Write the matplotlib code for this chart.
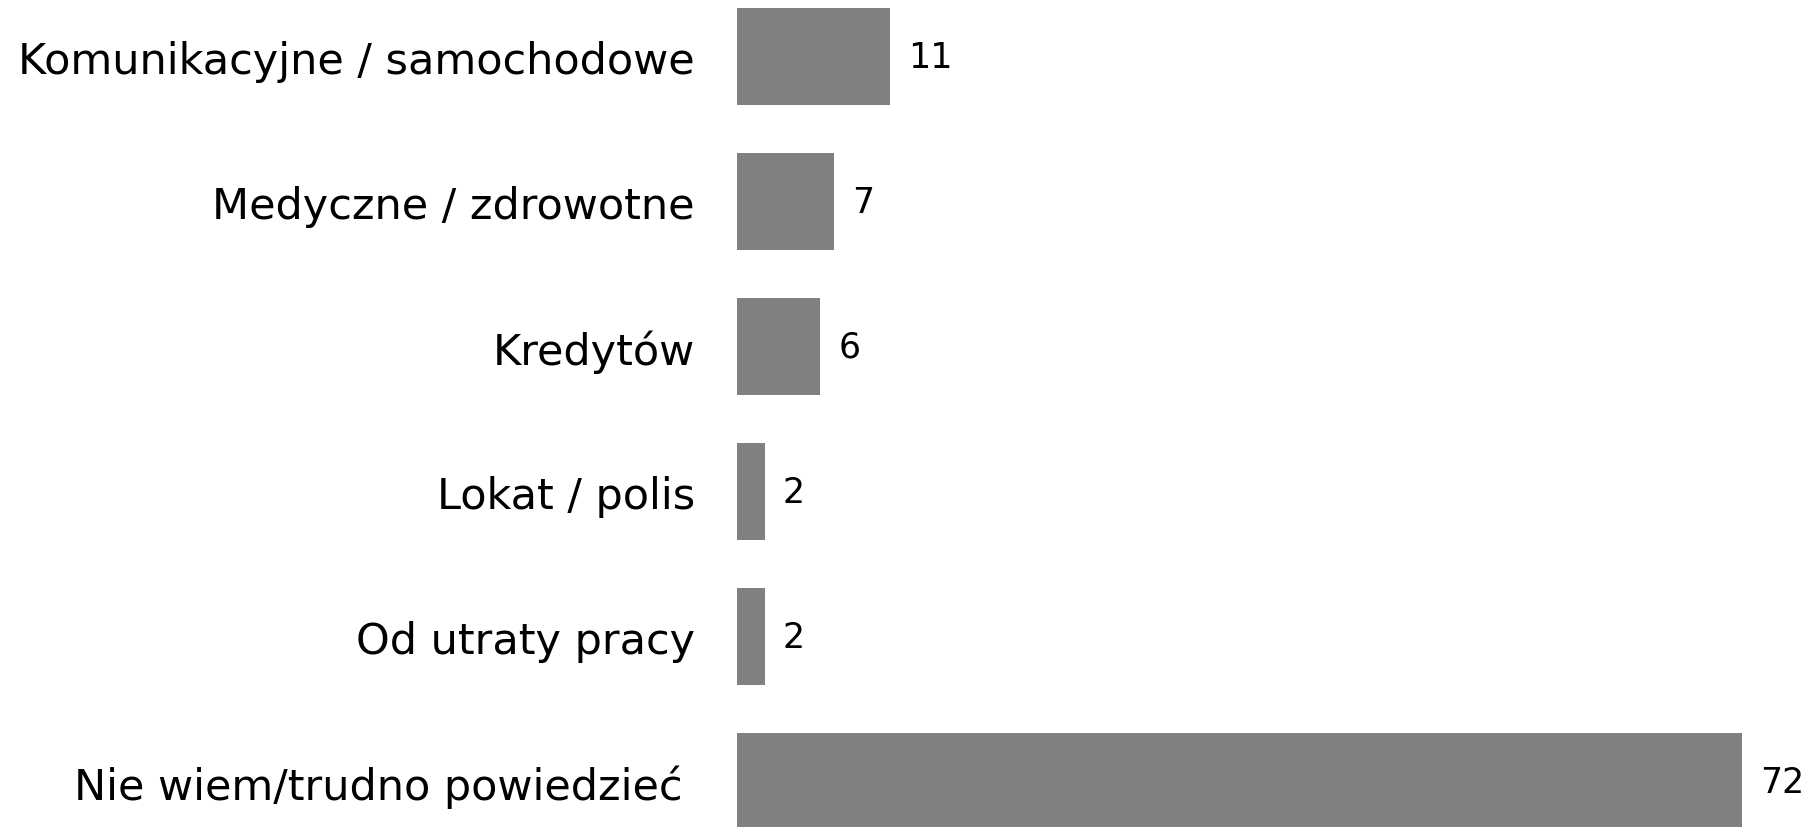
import matplotlib
matplotlib.use("Agg")
import matplotlib.pyplot as plt
import matplotlib.transforms as mtransforms

categories = [
    "Komunikacyjne / samochodowe",
    "Medyczne / zdrowotne",
    "Kredytów",
    "Lokat / polis",
    "Od utraty pracy",
    "Nie wiem/trudno powiedzieć",
]
values = [11, 7, 6, 2, 2, 72]

plt.rcParams['font.family'] = ['DejaVu Sans']

W, H = 1816, 828
fig = plt.figure(figsize=(W / 100, H / 100), dpi=100)

# axes from bar baseline to right edge, full height
x0 = 736.6
px_per_unit = 1005.4 / 72
ax = fig.add_axes([x0 / W, 0, 1 - x0 / W, 1])
ax.set_xlim(0, (W - x0) / px_per_unit)

step = 145.0
c0 = 57.8
ax.set_ylim((H - c0) / step, -c0 / step)

pos = list(range(len(categories)))
ax.barh(pos, values, height=97 / step, color='#808080', edgecolor='none')

for p, v in zip(pos, values):
    ax.annotate(str(v), xy=(v, p), xytext=(13, 0), textcoords='offset points',
                ha='left', va='center', fontsize=25, color='black')

ax.set_yticks(pos)
ax.set_yticklabels(categories, fontsize=31)
ax.tick_params(axis='y', length=0, pad=30)
ax.set_xticks([])
for s in ax.spines.values():
    s.set_visible(False)

# last label sits a little further left in the original
last = ax.get_yticklabels()[-1]
last.set_transform(last.get_transform() +
                   mtransforms.ScaledTranslation(-0.12, 0, fig.dpi_scale_trans))

fig.savefig("out.png", dpi=100)
